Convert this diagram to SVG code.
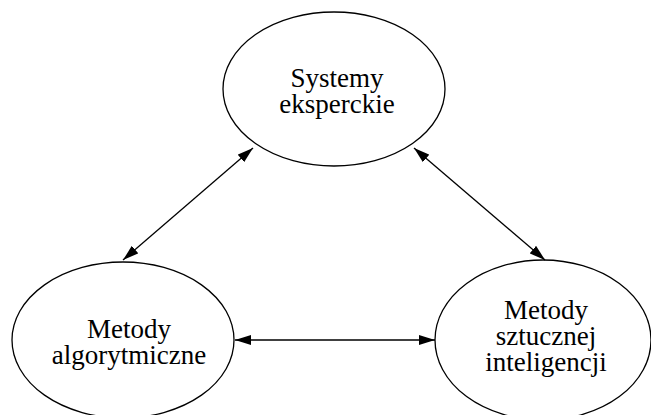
<svg xmlns="http://www.w3.org/2000/svg" width="651" height="415" viewBox="0 0 651 415">
<style>
.n ellipse{fill:#fff;stroke:#000;stroke-width:1.3}
.n text{font-family:"Liberation Serif","Times New Roman",serif;font-size:27px;fill:#000;text-anchor:middle}
.c line{stroke:#000;stroke-width:1.3;marker-start:url(#a);marker-end:url(#a)}
</style>
<defs>
<marker id="a" viewBox="0 0 16 10" refX="16" refY="5" markerWidth="16" markerHeight="10" markerUnits="userSpaceOnUse" orient="auto-start-reverse">
<path d="M0,0 L16,5 L0,10 Z" fill="#000"/>
</marker>
</defs>
<rect width="651" height="415" fill="#fff"/>
<g id="systemy" class="n">
<ellipse cx="334" cy="89" rx="111" ry="77"/>
<text x="337" y="87">Systemy</text>
<text x="337" y="113">eksperckie</text>
</g>
<g id="algorytmiczne" class="n">
<ellipse cx="123" cy="340" rx="111" ry="78"/>
<text x="129" y="338">Metody</text>
<text x="129" y="364">algorytmiczne</text>
</g>
<g id="si" class="n">
<ellipse cx="543" cy="340" rx="108" ry="80"/>
<text x="546" y="319">Metody</text>
<text x="546" y="345">sztucznej</text>
<text x="546" y="371">inteligencji</text>
</g>
<g id="connectors" class="c">
<line x1="253" y1="148" x2="123" y2="260"/>
<line x1="414" y1="148" x2="545" y2="260"/>
<line x1="235" y1="340" x2="435" y2="340"/>
</g>
</svg>
